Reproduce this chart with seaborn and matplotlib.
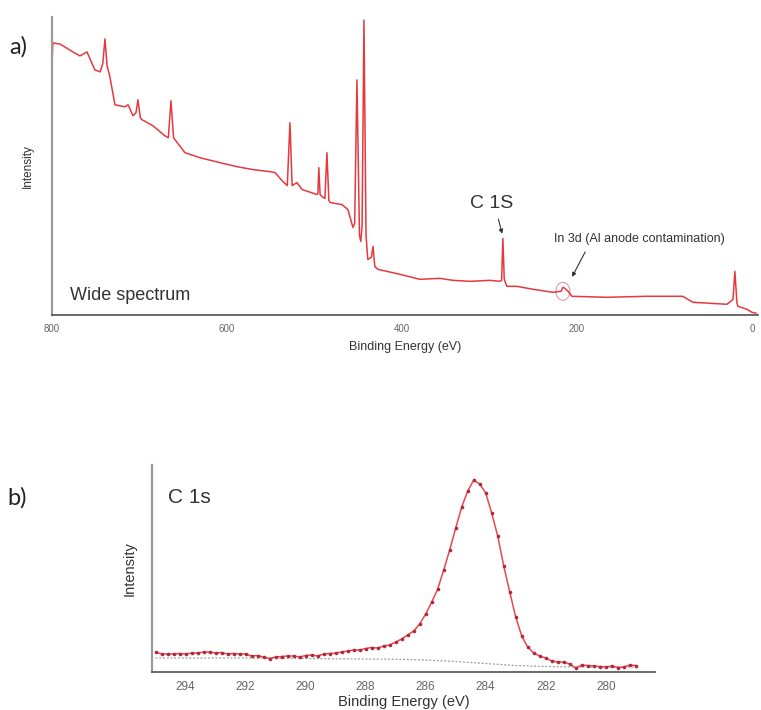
import numpy as np
import pandas as pd
import matplotlib
matplotlib.use("Agg")
import matplotlib.pyplot as plt
from matplotlib.patches import Ellipse
import seaborn as sns

# wide survey spectrum (binding energy in eV, intensity in arb. units)
wide_be = [800, 799, 791, 776, 768, 760, 751, 745, 742, 739.4, 737, 734, 728, 716.6, 713,
           707.4, 704, 701.7, 699, 697, 684.6, 671, 667, 664, 661, 659.4, 648, 631, 608,
           588.6, 570, 551, 545, 536, 531, 528, 525.5, 520, 514, 497, 496, 495, 493.5,
           491.4, 488, 485.7, 483.5, 482, 468.6, 461.7, 456, 454, 451.4, 448.5, 447,
           445.5, 443.4, 441, 439, 435, 433, 431, 427.4, 402, 379.4, 356.6, 341.7, 322,
           299.4, 288, 286, 284.6, 283, 280, 268.6, 250, 227.4, 218, 216, 213.7, 210,
           205.7, 165.7, 120, 79, 67.4, 28.6, 24, 21.5, 19.4, 17, 16, 5.7, 0, -5]
wide_int = [253, 273, 272, 264, 260, 264, 246, 244, 252, 277, 250, 240, 211, 209, 211,
            200, 203, 216, 198, 196, 190, 180, 178, 215, 178, 176, 163, 158, 153,
            149, 146, 144, 143, 134, 130, 193, 130, 133, 126, 121, 122, 148, 121,
            119, 117, 163, 115, 113, 111, 106, 88, 92, 236, 80, 74,
            90, 296, 80, 56, 58, 69, 49, 46, 41, 36, 37, 35, 34,
            35, 34, 35, 77, 36, 29, 29, 26, 23, 24, 28, 27, 24,
            19, 18, 19, 19, 13, 11, 14, 16, 44, 12, 9, 6, 3, 2]

# C 1s high resolution scan
c1s_be = [295.0, 294.8, 294.6, 294.4, 294.2, 294.0, 293.8, 293.6, 293.4, 293.2,
          293.0, 292.8, 292.6, 292.4, 292.2, 292.0, 291.8, 291.6, 291.4, 291.2,
          291.0, 290.8, 290.6, 290.4, 290.2, 290.0, 289.8, 289.6, 289.4, 289.2,
          289.0, 288.8, 288.6, 288.4, 288.2, 288.0, 287.8, 287.6, 287.4, 287.2,
          287.0, 286.8, 286.6, 286.4, 286.2, 286.0, 285.8, 285.6, 285.4, 285.2,
          285.0, 284.8, 284.6, 284.4, 284.2, 284.0, 283.8, 283.6, 283.4, 283.2,
          283.0, 282.8, 282.6, 282.4, 282.2, 282.0, 281.8, 281.6, 281.4, 281.2,
          281.0, 280.8, 280.6, 280.4, 280.2, 280.0, 279.8, 279.6, 279.4, 279.2, 279.0]
c1s_int = [20, 18, 18, 18, 18.5, 18, 19, 19, 20, 20,
           19, 19.5, 18, 18.5, 18, 18, 16, 16.5, 15, 13.5,
           15, 15.5, 16, 16, 15, 16.5, 17, 16, 18, 18.5,
           19, 20, 21, 22, 22, 23.5, 24.5, 24, 26, 27,
           30, 33, 37, 41, 48, 58, 70, 83, 102, 122,
           144, 165, 181, 192, 188, 179, 159, 136, 106, 80,
           55, 36, 25, 19, 16, 14, 11, 10, 10, 8,
           4, 7, 6.5, 6, 5.5, 5, 6, 4.5, 5, 7, 6.5]

# background under the C 1s peak
bg_be = [295.0, 292.0, 290.0, 288.0, 287.0, 286.0, 285.0, 284.0, 283.0, 282.0, 281.0, 279.0]
bg_int = [14, 14, 13.5, 13, 12.8, 12, 10.5, 8.5, 6.5, 5.5, 5, 5]

wide = pd.DataFrame({"be": wide_be, "intensity": wide_int})
c1s = pd.DataFrame({"be": c1s_be, "intensity": c1s_int})
bg = pd.DataFrame({"be": bg_be, "intensity": bg_int})

sns.set_theme(style="white")
plt.rcParams["font.family"] = ["Liberation Sans", "DejaVu Sans"]

fig = plt.figure(figsize=(7.61, 7.10), dpi=100)
ax1 = fig.add_axes([0.0683, 0.556, 0.9277, 0.420])
ax2 = fig.add_axes([0.1997, 0.0535, 0.661, 0.2915])

txt = "#333333"
tick_col = "#666666"

# ---- a) wide spectrum
sns.lineplot(data=wide, x="be", y="intensity", ax=ax1, color="#e4393f", lw=1.1, sort=False)
ax1.set_xlim(800, -7)
ax1.set_ylim(0, 299)
ax1.set_xticks([800, 600, 400, 200, 0])
ax1.set_yticks([])
ax1.set_xlabel("Binding Energy (eV)", fontsize=9, color=txt)
ax1.set_ylabel("Intensity", fontsize=8.5, color=txt)
ax1.xaxis.set_label_coords(0.5, -0.085)
ax1.yaxis.set_label_coords(-0.026, 0.5)
ax1.text(0.0255, 0.05, "Wide spectrum", transform=ax1.transAxes, fontsize=13,
         color=txt, va="baseline")
ax1.text(298, 112, "C 1S", fontsize=14, color=txt, ha="center", va="center")
ax1.annotate("", xy=(284.6, 79), xytext=(290.5, 99),
             arrowprops=dict(arrowstyle="-|>", lw=0.8, color="#333333", mutation_scale=6))
ax1.text(128, 76, "In 3d (Al anode contamination)", fontsize=9, color=txt,
         ha="center", va="center")
ax1.annotate("", xy=(207, 36), xytext=(189, 66),
             arrowprops=dict(arrowstyle="-|>", lw=0.8, color="#333333", mutation_scale=6))
ax1.add_patch(Ellipse((216, 24), 16, 18, fill=False, ec="#d8a0a0", lw=0.8))

# ---- b) C 1s
sns.lineplot(data=bg, x="be", y="intensity", ax=ax2, color="#9a9a9a", lw=0.9,
             linestyle=(0, (1.5, 1.5)), sort=False)
sns.lineplot(data=c1s, x="be", y="intensity", ax=ax2, color="#e8484e", lw=1.1, sort=False,
             marker="o", markersize=2.6, markerfacecolor="#b0283a", markeredgewidth=0)
ax2.set_xlim(295.12, 278.36)
ax2.set_ylim(0, 207)
ax2.set_xticks([294, 292, 290, 288, 286, 284, 282, 280])
ax2.set_yticks([])
ax2.set_xlabel("Binding Energy (eV)", fontsize=10.5, color=txt)
ax2.set_ylabel("Intensity", fontsize=10.5, color=txt)
ax2.xaxis.set_label_coords(0.5, -0.11)
ax2.yaxis.set_label_coords(-0.03, 0.5)
ax2.text(0.032, 0.816, "C 1s", transform=ax2.transAxes, fontsize=15, color=txt,
         va="baseline")

for ax, fs in ((ax1, 7), (ax2, 8.5)):
    sns.despine(ax=ax)
    ax.spines["left"].set_color("#9a9a9a")
    ax.spines["left"].set_linewidth(1.6)
    ax.spines["bottom"].set_color("#505050")
    ax.spines["bottom"].set_linewidth(1.2)
    ax.tick_params(axis="x", direction="inout", length=5, width=0.9, color="#444444",
                   labelsize=fs, labelcolor=tick_col, pad=4)
    ax.set_facecolor("white")

fig.text(0.012, 0.925, "a)", fontsize=17, color="#222222", family=["Lato", "DejaVu Sans"])
fig.text(0.010, 0.289, "b)", fontsize=17, color="#222222", family=["Lato", "DejaVu Sans"])

fig.savefig("out.png", dpi=100, facecolor="white")
